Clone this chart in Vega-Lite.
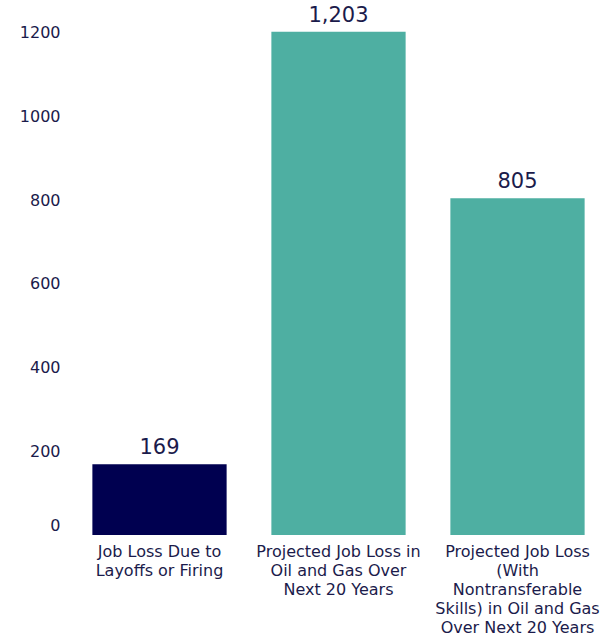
{
  "$schema": "https://vega.github.io/schema/vega-lite/v6.json",
  "autosize": "none",
  "width": 537,
  "height": 523,
  "padding": {"left": 70, "top": 12, "right": 3, "bottom": 105},
  "background": "white",
  "config": {
    "view": {"stroke": null},
    "font": "DejaVu Sans"
  },
  "data": {
    "values": [
      {"category": "Job Loss Due to|Layoffs or Firing", "value": 169, "group": "actual"},
      {"category": "Projected Job Loss in|Oil and Gas Over|Next 20 Years", "value": 1203, "group": "projected"},
      {"category": "Projected Job Loss|(With|Nontransferable|Skills) in Oil and Gas|Over Next 20 Years", "value": 805, "group": "projected"}
    ]
  },
  "encoding": {
    "x": {
      "field": "category",
      "type": "nominal",
      "sort": null,
      "scale": {"paddingInner": 0.25, "paddingOuter": 0.125},
      "axis": {
        "title": null,
        "labelAngle": 0,
        "labelExpr": "split(datum.label, '|')",
        "labelFont": "DejaVu Sans",
        "labelFontSize": 16,
        "labelLineHeight": 19,
        "labelColor": "#1b1b4b",
        "labelPadding": 8,
        "domain": false,
        "ticks": false,
        "labelBaseline": "top"
      }
    },
    "y": {
      "field": "value",
      "type": "quantitative",
      "scale": {"domain": [0, 1250], "nice": false},
      "axis": {
        "title": null,
        "values": [0, 200, 400, 600, 800, 1000, 1200],
        "format": "d",
        "grid": false,
        "domain": false,
        "ticks": false,
        "labelPadding": 10,
        "labelOffset": {"condition": {"test": "datum.value === 0", "value": -10}, "value": 0},
        "labelFont": "DejaVu Sans",
        "labelFontSize": 16,
        "labelColor": "#1b1b4b"
      }
    }
  },
  "layer": [
    {
      "mark": {"type": "bar"},
      "encoding": {
        "color": {
          "field": "group",
          "type": "nominal",
          "scale": {"domain": ["actual", "projected"], "range": ["#000050", "#4eafa2"]},
          "legend": null
        }
      }
    },
    {
      "mark": {"type": "text", "baseline": "bottom", "dy": -6, "fontSize": 21, "color": "#1b1b4b", "font": "DejaVu Sans"},
      "encoding": {
        "text": {"field": "value", "type": "quantitative", "format": ","}
      }
    }
  ]
}
